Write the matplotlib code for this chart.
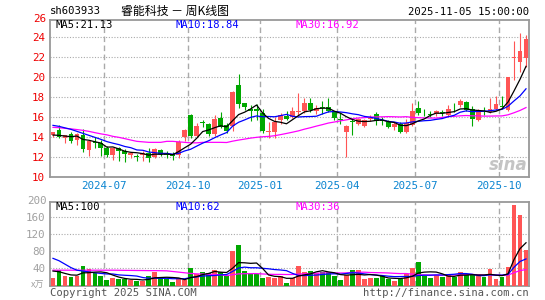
import matplotlib
matplotlib.use("Agg")
import matplotlib.pyplot as plt
import numpy as np
import pandas as pd

# ---------------- data (weekly bars, 2024-04-29 .. 2025-11-03) ----------------
opens = [14.25, 14.75, 13.95, 14.35, 13.75, 14.25, 12.75, 13.55, 13.40, 12.95,
         12.20, 12.95, 12.60, 12.25, 12.15, 12.20, 12.45, 12.05, 12.70, 12.40,
         12.30, 12.20, 14.05, 16.20, 14.15, 15.50, 15.30, 14.30, 15.95, 15.25,
         15.10, 19.25, 17.40, 16.85, 16.80, 16.40, 14.55, 14.55, 15.75, 16.15,
         16.05, 16.55, 16.60, 17.40, 16.60, 17.05, 17.05, 16.50, 15.85, 14.50,
         15.60, 15.35, 15.10, 15.85, 16.30, 15.75, 15.55, 15.00, 15.30, 14.50,
         15.25, 16.95, 16.35, 16.30, 16.30, 16.50, 16.25, 16.75, 17.25, 17.55,
         16.80, 15.75, 16.55, 16.50, 16.85, 17.15, 16.75, 21.90, 21.50, 21.90]
highs = [14.55, 15.25, 14.25, 14.50, 14.40, 14.80, 13.70, 14.05, 13.70, 13.15,
         12.95, 13.05, 12.85, 12.55, 12.30, 12.60, 12.95, 12.90, 12.85, 12.60,
         12.50, 13.70, 14.85, 16.30, 15.40, 15.75, 15.45, 16.25, 16.50, 15.40,
         18.65, 20.35, 17.40, 17.25, 17.35, 16.85, 15.55, 16.05, 16.45, 16.60,
         17.05, 18.40, 17.90, 17.95, 17.20, 17.60, 17.95, 16.65, 16.45, 15.25,
         15.95, 15.95, 15.80, 16.25, 16.50, 16.00, 15.75, 15.50, 15.50, 15.85,
         17.45, 17.60, 16.85, 16.60, 16.75, 16.75, 17.25, 17.40, 17.85, 17.60,
         17.10, 16.85, 17.05, 17.90, 18.15, 18.15, 20.00, 23.65, 24.40, 24.20]
lows = [14.00, 13.95, 13.40, 13.45, 13.20, 12.55, 12.15, 12.95, 12.10, 12.00,
        11.75, 11.60, 11.55, 11.95, 11.60, 11.65, 11.55, 11.95, 12.15, 11.90,
        11.75, 11.95, 13.65, 13.90, 14.00, 15.05, 14.15, 14.15, 14.95, 14.45,
        14.60, 16.95, 16.75, 15.60, 15.75, 14.45, 13.90, 13.90, 15.30, 15.75,
        15.90, 16.20, 16.45, 16.50, 16.30, 16.30, 16.50, 15.75, 15.30, 12.00,
        14.25, 15.25, 15.00, 15.60, 15.25, 15.20, 14.90, 14.75, 14.45, 14.45,
        15.10, 16.25, 16.10, 16.00, 16.15, 16.15, 16.15, 16.50, 17.05, 16.60,
        15.15, 15.65, 16.20, 16.40, 16.75, 17.05, 16.65, 19.70, 20.55, 21.05]
closes = [14.50, 14.05, 14.20, 13.60, 14.30, 12.80, 13.65, 13.45, 12.95, 12.25,
          12.90, 12.65, 12.30, 12.40, 12.05, 12.45, 11.90, 12.80, 12.30, 12.20,
          12.10, 13.50, 14.70, 14.10, 15.15, 15.45, 14.30, 15.85, 15.05, 14.60,
          18.55, 17.35, 17.05, 16.65, 16.60, 14.60, 14.60, 15.55, 16.20, 15.85,
          16.65, 16.65, 17.40, 16.75, 16.90, 16.90, 16.65, 15.90, 15.75, 15.15,
          15.50, 15.80, 15.70, 15.90, 15.60, 15.65, 15.00, 15.30, 14.50, 15.40,
          16.60, 16.40, 16.30, 16.25, 16.60, 16.45, 16.85, 16.70, 17.60, 16.75,
          15.80, 16.60, 16.50, 16.85, 17.30, 17.05, 20.00, 22.05, 22.65, 23.80]
volumes = [18.8, 36.8, 23.2, 20.1, 23.2, 45.7, 38.7, 30.2, 22.4, 13.1,
           18.6, 15.5, 14.7, 13.1, 11.6, 11.6, 22.4, 32.5, 17.0, 14.7,
           8.5, 17.0, 13.1, 41.0, 26.3, 31.7, 30.2, 36.4, 32.5, 22.4,
           81.4, 95.3, 34.1, 26.3, 26.3, 18.6, 19.3, 18.6, 22.4, 6.9,
           18.6, 45.7, 32.5, 34.1, 30.2, 31.7, 31.7, 22.4, 13.1, 24.0,
           36.0, 36.0, 15.5, 17.8, 17.8, 22.4, 16.2, 11.6, 14.7, 26.3,
           40.0, 54.0, 22.4, 17.8, 24.0, 20.1, 26.3, 20.1, 31.7, 24.8,
           24.8, 22.8, 20.8, 38.8, 15.5, 19.3, 43.8, 186.8, 164.8, 83.8]

# moving-average values at the left edge (windows reaching before the first bar)
ma5_head = [14.23, 14.20, 14.13, 14.07]
ma10_head = [15.20, 15.10, 14.95, 14.80, 14.60, 14.40, 14.20, 14.00, 13.80]
ma30_head = [15.00, 14.97, 14.90, 14.85, 14.78, 14.70, 14.60, 14.47, 14.35, 14.25,
             14.10, 14.00, 13.87, 13.73, 13.60, 13.55, 13.50, 13.50, 13.50, 13.60,
             13.60, 13.55, 13.50, 13.45, 13.45, 13.50, 13.50, 13.50, 13.50]
vma5_head = [34.0, 32.5, 28.5, 25.0]
vma10_head = [63.5, 58.0, 50.0, 42.0, 36.0, 34.0, 32.0, 30.0, 28.5]
vma30_head = [36.0, 36.0, 36.0, 36.0, 36.0, 36.0, 36.0, 36.0, 36.0, 36.0,
              36.0, 35.8, 35.6, 35.5, 35.3, 35.2, 35.0, 35.0, 34.8, 34.5,
              33.0, 31.5, 30.0, 28.5, 27.5, 27.0, 26.5, 26.0, 25.5]

tick_weeks = [9, 23, 35, 48, 61, 75]
tick_labels = ["2024-07", "2024-10", "2025-01", "2025-04", "2025-07", "2025-10"]
price_ticks = [10, 12, 14, 16, 18, 20, 22, 24]
vol_ticks = [40, 80, 120, 160]

ma_texts = ["MA5:21.13", "MA10:18.84", "MA30:16.92"]
vma_texts = ["MA5:100", "MA10:62", "MA30:36"]

# ---------------- helpers ----------------
def with_head(series, n, head):
    s = pd.Series(series).rolling(n).mean().to_numpy()
    s[:len(head)] = head
    return s

W, H = 545, 300
fig = plt.figure(figsize=(W / 100, H / 100), dpi=100)
fig.patch.set_facecolor("white")

def fx(x):
    return x / W

def fy(y):
    return 1 - y / H

RED = "#ff5555"
GREEN = "#00a800"
GRID = "#aaaaaa"
FRAME = "#999999"
MONO = "DejaVu Sans Mono"
CJK = ["Noto Sans CJK SC", "DejaVu Sans"]
FS = 7.2

ax = fig.add_axes([fx(50), fy(177.3), (529 - 50) / W, (177.3 - 19.5) / H])
axv = fig.add_axes([fx(50), fy(285.7), (529 - 50) / W, (285.7 - 201.7) / H])

x = np.arange(len(closes))
o = np.array(opens); c = np.array(closes); hi = np.array(highs); lo = np.array(lows)
up = c >= o
cols = np.where(up, RED, GREEN)

for a in (ax, axv):
    a.set_xlim(-0.5, len(closes) - 0.5)
    for s in a.spines.values():
        s.set_color(FRAME)
        s.set_linewidth(1.3)
    for t in tick_weeks:
        a.axvline(t - 0.5, color=GRID, lw=1.0, ls=(0, (4, 2.5)), zorder=0)

# price panel
ax.set_ylim(10, 25.8)
for p in price_ticks[1:]:
    ax.axhline(p, color=GRID, lw=0.8, ls=(0, (1, 1.5)), zorder=0)
ax.vlines(x, lo, hi, colors=cols, lw=0.8, zorder=2)
body_h = np.maximum(np.abs(c - o), 0.07)
ax.bar(x, body_h, bottom=np.minimum(o, c), width=0.8, color=cols, lw=0, zorder=3)

ax.plot(x, with_head(closes, 30, ma30_head), color="#ff00ff", lw=0.9, zorder=4)
ax.plot(x, with_head(closes, 10, ma10_head), color="#0000ff", lw=0.9, zorder=4)
ax.plot(x, with_head(closes, 5, ma5_head), color="black", lw=0.9, zorder=5)

ax.set_yticks(price_ticks)
ax.set_yticklabels([str(p) for p in price_ticks], color="#ee0000", family=MONO, fontsize=FS + 0.6)
ax.set_xticks([t - 0.5 for t in tick_weeks])
ax.set_xticklabels(tick_labels, color="#0a84d0", family=MONO, fontsize=FS + 0.6)
ax.tick_params(length=0, pad=3)
ax.tick_params(axis="y", pad=3.5)

ax.text(0.997, 0.075, "sina", transform=ax.transAxes, ha="right", va="center",
        fontsize=12, fontweight="bold", style="italic", color="#c4c4c4", zorder=1)

# volume panel
axv.set_ylim(0, 195)
for v in vol_ticks:
    axv.axhline(v, color=GRID, lw=0.8, ls=(0, (1, 1.5)), zorder=0)
axv.bar(x, volumes, width=0.8, color=cols, lw=0, zorder=3)
axv.plot(x, with_head(volumes, 30, vma30_head), color="#ff00ff", lw=0.9, zorder=4)
axv.plot(x, with_head(volumes, 10, vma10_head), color="#0000ff", lw=0.9, zorder=4)
axv.plot(x, with_head(volumes, 5, vma5_head), color="black", lw=0.9, zorder=5)
axv.set_xticks([])
axv.set_yticks(vol_ticks)
axv.set_yticklabels([str(v) for v in vol_ticks], color="#a0a0a0", family=MONO, fontsize=FS + 0.6)
axv.tick_params(length=0, pad=3.5)

# header texts
fig.text(fx(50), fy(11.5), "sh603933", family=MONO, fontsize=FS + 0.4, va="center", ha="left")
fig.text(fx(121), fy(11.5), "睿能科技 － 周K线图", family=CJK, fontsize=8.6, va="center", ha="left")
fig.text(fx(529), fy(12), "2025-11-05 15:00:00", family=MONO, fontsize=FS + 0.4, va="center", ha="right")
fig.text(fx(46.5), fy(19.5), "26", color="#ee0000", family=MONO, fontsize=FS + 0.6, va="center", ha="right")

for txt, xx, col in zip(ma_texts, [55, 175, 295], ["black", "#0000ff", "#ff00ff"]):
    fig.text(fx(xx), fy(24.8), txt, color=col, family=MONO, fontsize=FS + 0.4, va="center", ha="left")
for txt, xx, col in zip(vma_texts, [55, 175, 295], ["black", "#0000ff", "#ff00ff"]):
    fig.text(fx(xx), fy(206.5), txt, color=col, family=MONO, fontsize=FS + 0.4, va="center", ha="left")

fig.text(fx(46.5), fy(200.5), "200", color="#a0a0a0", family=MONO, fontsize=FS + 0.6, va="center", ha="right")
fig.text(fx(44), fy(285), "x万", color="#a0a0a0", family=CJK, fontsize=6.5, va="center", ha="right")
fig.text(fx(50), fy(292.5), "Copyright 2025 SINA.COM", color="#555555", family=MONO, fontsize=FS + 0.4,
         va="center", ha="left")
fig.text(fx(529), fy(293), "http://finance.sina.com.cn", color="#555555", family=MONO, fontsize=FS + 0.4,
         va="center", ha="right")

fig.savefig("out.png", dpi=100, facecolor="white")
